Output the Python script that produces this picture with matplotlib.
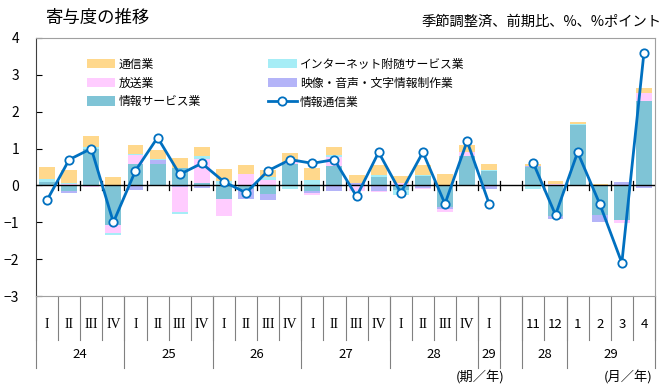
import matplotlib.pyplot as plt
import numpy as np
from matplotlib.patches import Patch
from matplotlib.lines import Line2D

plt.rcParams['font.family'] = ['Noto Sans CJK JP', 'DejaVu Sans']

# 21 quarters (H24 I .. H29 I) followed by 6 months (H28.11 .. H29.4)
quarter_labels = ['I', 'II', 'III', 'IV'] * 5 + ['I']
month_labels = ['11', '12', '1', '2', '3', '4']
quarter_years = ['24', '25', '26', '27', '28', '29']
month_years = ['28', '29']

service = [0.08, -0.15, 1.00, -1.08, 0.57, 0.57, 0.48, 0.07, -0.37, -0.10, -0.22,
           0.57, -0.15, 0.52, 0.00, 0.23, -0.13, 0.25, -0.58, 0.81, 0.39,
           0.50, -0.84, 1.63, -0.81, -0.95, 2.29]
eizo = [0.00, -0.05, 0.00, 0.00, -0.12, 0.11, -0.03, -0.06, 0.00, -0.27, -0.18,
        0.00, -0.06, -0.15, 0.07, -0.15, 0.00, -0.06, -0.05, 0.00, -0.11,
        0.03, -0.07, 0.00, -0.18, 0.10, -0.07]
hoso = [0.00, 0.03, -0.03, -0.22, 0.25, 0.00, -0.70, 0.65, -0.46, 0.30, 0.16,
        0.06, -0.04, 0.25, -0.14, -0.03, 0.07, -0.03, -0.09, 0.09, 0.00,
        0.00, 0.05, 0.00, 0.00, -0.06, 0.21]
internet = [0.09, 0.04, 0.03, -0.04, 0.04, 0.04, -0.04, 0.09, 0.12, 0.00, 0.07,
            -0.10, 0.16, 0.06, 0.00, 0.06, -0.12, 0.04, 0.00, 0.00, 0.04,
            -0.10, 0.00, 0.05, 0.00, 0.00, 0.00]
tsushin = [0.33, 0.35, 0.30, 0.24, 0.25, 0.25, 0.27, 0.23, 0.33, 0.26, 0.20,
           0.25, 0.32, 0.21, 0.20, 0.27, 0.18, 0.27, 0.30, 0.21, 0.15,
           0.05, 0.06, 0.03, 0.05, 0.00, 0.14]
total = [-0.4, 0.7, 1.0, -1.0, 0.4, 1.3, 0.3, 0.6, 0.1, -0.2, 0.4, 0.7, 0.6, 0.7,
         -0.3, 0.9, -0.2, 0.9, -0.5, 1.2, -0.5,
         0.6, -0.8, 0.9, -0.5, -2.1, 3.6]

series = [('情報サービス業', service, '#7FC4D6'),
          ('映像・音声・文字情報制作業', eizo, '#B4B4F8'),
          ('放送業', hoso, '#FFCCFF'),
          ('インターネット附随サービス業', internet, '#A6EDF6'),
          ('通信業', tsushin, '#FFD88C')]

nq = len(quarter_labels)
xpos = np.array(list(range(nq)) + list(range(nq + 1, nq + 1 + len(month_labels))))
nslots = nq + 1 + len(month_labels)

fig = plt.figure(figsize=(6.7, 3.86), dpi=100)
ax = fig.add_axes([36 / 670, 1 - 296 / 386, 619 / 670, 258 / 386])

pos_base = np.zeros(len(xpos))
neg_base = np.zeros(len(xpos))
handles = {}
for name, vals, color in series:
    v = np.array(vals)
    bottom = np.where(v >= 0, pos_base, neg_base)
    ax.bar(xpos, v, bottom=bottom, width=0.72, color=color, linewidth=0, zorder=2)
    pos_base = pos_base + np.where(v >= 0, v, 0)
    neg_base = neg_base + np.where(v < 0, v, 0)
    handles[name] = Patch(facecolor=color, edgecolor='none')

tot = np.array(total)
line_kw = dict(color='#0070C0', lw=2, marker='o', markersize=6,
               markerfacecolor='white', markeredgewidth=1.3, zorder=4)
ax.plot(xpos[:nq], tot[:nq], **line_kw)
ax.plot(xpos[nq:], tot[nq:], **line_kw)

ax.set_xlim(-0.5, nslots - 0.5)
ax.set_ylim(-3, 4)
ax.axhline(0, color='black', lw=1, zorder=3)
for b in range(1, nslots):
    ax.plot([b - 0.5, b - 0.5], [-0.12, 0.12], color='black', lw=0.9, zorder=3)

ax.set_xticks([])
ax.set_yticks(range(-3, 5))
ax.tick_params(axis='y', direction='in', length=4, labelsize=10, pad=12)
for s in ['top', 'right', 'bottom']:
    ax.spines[s].set_color('#A0A0A0')
ax.spines['left'].set_color('#404040')

# category table below the plot
tr = ax.get_xaxis_transform()
for b in range(0, nslots + 1):
    ax.plot([b - 0.5, b - 0.5], [0, -0.17], color='#808080', lw=0.8,
            transform=tr, clip_on=False)
for x, lab in zip(xpos[:nq], quarter_labels):
    ax.text(x, -0.112, lab, transform=tr, ha='center', va='center', fontsize=10,
            family='Liberation Serif')
for x, lab in zip(xpos[nq:], month_labels):
    ax.text(x, -0.112, lab, transform=tr, ha='center', va='center', fontsize=9.5)

year_spans = [(0, 4), (4, 8), (8, 12), (12, 16), (16, 20), (20, 21)]
month_spans = [(22, 24), (24, 28)]
for (a, b), lab in zip(year_spans + month_spans, quarter_years + month_years):
    ax.text((a + b - 1) / 2, -0.225, lab, transform=tr, ha='center', va='center', fontsize=9.5)
for b in [0, 4, 8, 12, 16, 20, 21, 22, 24, 28]:
    ax.plot([b - 0.5, b - 0.5], [0, -0.28], color='#808080', lw=0.8,
            transform=tr, clip_on=False)
ax.text(19.6, -0.314, '(期／年)', transform=tr, ha='center', va='center', fontsize=9.5)
ax.text(26.3, -0.314, '(月／年)', transform=tr, ha='center', va='center', fontsize=9.5)

fig.text(45 / 670, 1 - 18 / 386, '寄与度の推移', fontsize=12.5, ha='left', va='center')
fig.text(662 / 670, 1 - 22 / 386, '季節調整済、前期比、%、%ポイント', fontsize=10.3,
         ha='right', va='center')

order = ['通信業', '放送業', '情報サービス業', 'インターネット附随サービス業',
         '映像・音声・文字情報制作業']
h = [handles[n] for n in order]
h.append(Line2D([], [], **line_kw))
ax.legend(h, order + ['情報通信業'], ncol=2, loc='upper left',
          bbox_to_anchor=(0.065, 0.965), frameon=False, fontsize=8.5,
          handlelength=2.4, handleheight=0.9, columnspacing=5.7,
          labelspacing=0.5, handletextpad=0.3)

fig.savefig('out.png', dpi=100)
